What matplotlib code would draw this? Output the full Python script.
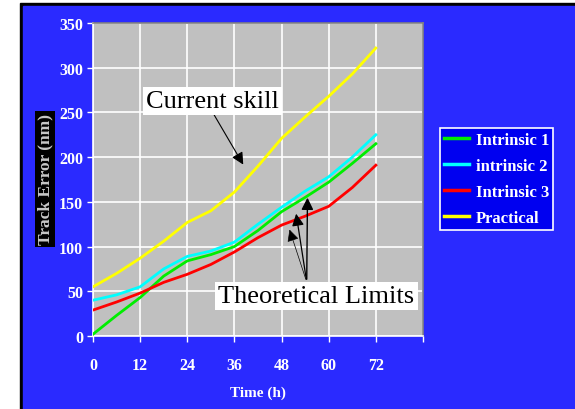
import numpy as np
import matplotlib
matplotlib.use('Agg')
import matplotlib.pyplot as plt
from matplotlib.patches import Rectangle

plt.rcParams['font.family'] = 'Liberation Serif'

# forecast hours and track error values
hours = [0, 6, 12, 18, 24, 30, 36, 42, 48, 54, 60, 66, 72]
intrinsic1 = [2, 23, 43, 67, 84, 91, 100, 118, 139, 155, 172, 193, 215]
intrinsic2 = [40, 46, 55, 75, 89, 95, 105, 125, 144, 162, 178, 200, 225]
intrinsic3 = [29, 38, 48, 60, 69, 80, 94, 110, 124, 134, 145, 166, 191]
practical = [55, 70, 87, 106, 127, 140, 161, 190, 221, 245, 268, 293, 322]

series = [('Intrinsic 1', intrinsic1, '#00ee00'),
          ('intrinsic 2', intrinsic2, '#00ffff'),
          ('Intrinsic 3', intrinsic3, '#ff0000'),
          ('Practical', practical, '#ffff00')]

xticks = [0, 12, 24, 36, 48, 60, 72]
yticks = [0, 50, 100, 150, 200, 250, 300, 350]

blue = '#2a2aff'

fig = plt.figure(figsize=(5.75, 4.1), dpi=100)
fig.patch.set_facecolor('white')
# slide frame: black edge, then blue panel
fig.patches.append(Rectangle((20/575, 0), 1 - 20/575, (410 - 4)/410,
                             transform=fig.transFigure, color='black', zorder=-2))
fig.patches.append(Rectangle((23/575, 0), 1 - 23/575, (410 - 6.5)/410,
                             transform=fig.transFigure, color=blue, zorder=-1))

ax = fig.add_axes([93/575, 1 - 337/410, 330/575, 313/410])
ax.set_zorder(1)
ax.set_facecolor('#c0c0c0')

for name, vals, col in series:
    ax.plot(hours, vals, color=col, lw=2, label=name, zorder=3)

ax.set_xlim(0, 84)
ax.set_ylim(0, 350)
ax.set_xticks(xticks + [84])
ax.set_xticklabels([str(t) for t in xticks] + [''])
ax.set_yticks(yticks)
ax.grid(color='white', lw=1.2, zorder=1)
ax.set_axisbelow(True)

for lab in ax.get_xticklabels() + ax.get_yticklabels():
    lab.set_fontweight('bold')
    lab.set_color('white')
    lab.set_fontsize(11.5)
ax.tick_params(axis='both', colors='white', length=4, width=1)
ax.tick_params(axis='x', pad=11)
ax.tick_params(axis='y', pad=3)

for s in ['left', 'bottom']:
    ax.spines[s].set_color('white')
    ax.spines[s].set_linewidth(1.2)
for s in ['top', 'right']:
    ax.spines[s].set_color('#808080')
    ax.spines[s].set_linewidth(1.2)

ax.set_xlabel('Time (h)', color='white', fontweight='bold', fontsize=11, labelpad=9)

# blurred y label, rendered as text on a black strip
fig.text(45/575, 1 - 180/410, 'Track Error (nm)', rotation=90, ha='center', va='center',
         color='#c8c8c8', fontsize=12.5, fontweight='bold',
         bbox=dict(facecolor='black', edgecolor='none', pad=1.5))

# annotations
box = dict(boxstyle='square,pad=0.12', facecolor='white', edgecolor='none')
ax.text(30.4, 262.8, 'Current skill', fontsize=19, ha='center', va='center',
        bbox=box, zorder=6)
ax.annotate('', xy=(38.6, 189), xytext=(30.4, 250.5),
            arrowprops=dict(arrowstyle='-|>', color='black', lw=0.8,
                            mutation_scale=18), zorder=5)

ax.text(56.9, 44.7, 'Theoretical Limits', fontsize=19, ha='center', va='center',
        bbox=box, zorder=6)
tips = [(54.6, 157.7, 1.0), (51.6, 139.8, 0.9), (49.8, 121.9, 0.5)]
for tx, ty, w in tips:
    ax.annotate('', xy=(tx, ty), xytext=(54.4, 60.4),
                arrowprops=dict(arrowstyle='-|>', color='black', lw=w,
                                mutation_scale=18), zorder=5)

leg = fig.legend(loc='upper left', bbox_to_anchor=(440/575, 1 - 129/410),
                 frameon=True, fancybox=False, facecolor='#0000f0',
                 edgecolor='white', handlelength=1.5, handletextpad=0.4,
                 borderpad=0.25, labelspacing=0.6, borderaxespad=0,
                 prop={'weight': 'bold', 'size': 12})
leg.set_zorder(5)
leg.get_frame().set_linewidth(1.2)
leg.get_frame().set_alpha(1)
for t in leg.get_texts():
    t.set_color('white')
for h in leg.get_lines():
    h.set_linewidth(2.5)

plt.savefig('out.png', dpi=100, facecolor=fig.get_facecolor())
